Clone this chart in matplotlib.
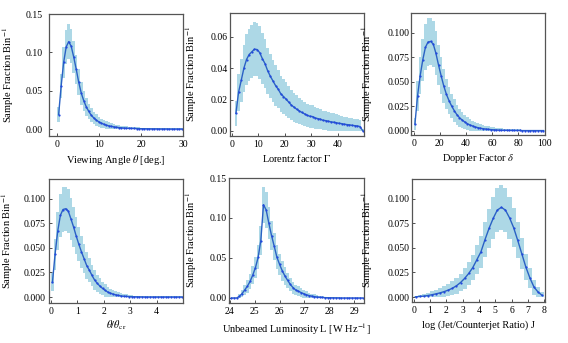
import numpy as np
import matplotlib
matplotlib.use("Agg")
import matplotlib.pyplot as plt

plt.rcParams['font.family'] = ['Liberation Serif', 'DejaVu Serif']
plt.rcParams['mathtext.fontset'] = 'stix'
plt.rcParams['font.size'] = 7

# --- data (fraction per bin and 1-sigma spread) ---
theta_edges = np.linspace(0, 30, 51)
theta_frac = [0.019, 0.056, 0.087, 0.107, 0.114, 0.108, 0.094, 0.078, 0.061, 0.047,
              0.037, 0.029, 0.023, 0.018, 0.0145, 0.0117, 0.0095, 0.0078, 0.0063, 0.0051,
              0.0042, 0.0035, 0.0029, 0.0024, 0.0020, 0.0017, 0.0014, 0.0012, 0.0010, 0.0009,
              0.0008, 0.0007, 0.0006, 0.0005, 0.0005, 0.0004, 0.0004, 0.0003, 0.0003, 0.0003,
              0.0002, 0.0002, 0.0002, 0.0002, 0.0001, 0.0001, 0.0001, 0.0001, 0.0001, 0.0001]
theta_err = [0.0094, 0.016, 0.020, 0.022, 0.023, 0.022, 0.021, 0.019, 0.017, 0.015,
             0.013, 0.0116, 0.0103, 0.0091, 0.0082, 0.0074, 0.0066, 0.0060, 0.0054, 0.0049,
             0.0044, 0.0040, 0.0037, 0.0033, 0.0030, 0.0028, 0.0025, 0.0024, 0.0021, 0.0020,
             0.0019, 0.0018, 0.0017, 0.0015, 0.0015, 0.0014, 0.0014, 0.0012, 0.0012, 0.0012,
             0.0010, 0.0010, 0.0010, 0.0010, 0.0007, 0.0007, 0.0007, 0.0007, 0.0007, 0.0007]

gamma_edges = np.linspace(1, 50, 50)
gamma_frac = [0.0113, 0.0248, 0.0323, 0.0400, 0.0456, 0.0488, 0.0505, 0.0522, 0.0520, 0.0500,
              0.0462, 0.0430, 0.0385, 0.0350, 0.0320, 0.0290, 0.0267, 0.0237, 0.0220, 0.0203,
              0.0184, 0.0165, 0.0152, 0.0139, 0.0128, 0.0118, 0.0109, 0.0100, 0.0094, 0.0092,
              0.0083, 0.0079, 0.0075, 0.0068, 0.0066, 0.0062, 0.0058, 0.0056, 0.0053, 0.0049,
              0.0047, 0.0043, 0.0041, 0.0039, 0.0036, 0.0034, 0.0032, 0.0028, 0.0002]
gamma_err = [0.0080, 0.0118, 0.0135, 0.0150, 0.0160, 0.0166, 0.0169, 0.0171, 0.0171, 0.0168,
             0.0161, 0.0156, 0.0147, 0.0140, 0.0134, 0.0128, 0.0123, 0.0115, 0.0111, 0.0107,
             0.0102, 0.0096, 0.0092, 0.0088, 0.0085, 0.0081, 0.0078, 0.0075, 0.0073, 0.0072,
             0.0068, 0.0067, 0.0065, 0.0062, 0.0061, 0.0059, 0.0057, 0.0056, 0.0055, 0.0053,
             0.0051, 0.0049, 0.0048, 0.0047, 0.0045, 0.0044, 0.0042, 0.0040, 0.0010]

delta_edges = np.linspace(0, 100, 51)
delta_frac = [0.0068, 0.0355, 0.0560, 0.0723, 0.0850, 0.0904, 0.0910, 0.0883, 0.0790, 0.0670,
              0.0560, 0.0457, 0.0372, 0.0307, 0.0252, 0.0205, 0.0164, 0.0133, 0.0109, 0.0089,
              0.0072, 0.0058, 0.0048, 0.0038, 0.0031, 0.0025, 0.0020, 0.0017, 0.0014, 0.0011,
              0.0009, 0.0008, 0.0006, 0.0005, 0.0004, 0.0004, 0.0003, 0.0003, 0.0002, 0.0002,
              0.0002, 0.0001, 0.0001, 0.0001, 0.0001, 0.0001, 0.0001, 0.0001, 0.0001, 0.0001]
delta_err = [0.0066, 0.0151, 0.0189, 0.0215, 0.0233, 0.0240, 0.0241, 0.0238, 0.0225, 0.0207,
             0.0189, 0.0171, 0.0154, 0.0140, 0.0127, 0.0115, 0.0102, 0.0092, 0.0084, 0.0075,
             0.0068, 0.0061, 0.0055, 0.0049, 0.0045, 0.0040, 0.0036, 0.0033, 0.0030, 0.0027,
             0.0024, 0.0023, 0.0020, 0.0018, 0.0016, 0.0016, 0.0014, 0.0014, 0.0011, 0.0011,
             0.0011, 0.0008, 0.0008, 0.0008, 0.0008, 0.0008, 0.0008, 0.0008, 0.0008, 0.0008]

ratio_edges = np.linspace(0, 5, 51)
ratio_frac = [0.0150, 0.0435, 0.0670, 0.0830, 0.0890, 0.0898, 0.0874, 0.0796, 0.0714, 0.0622,
              0.0537, 0.0460, 0.0390, 0.0320, 0.0274, 0.0220, 0.0173, 0.0139, 0.0112, 0.0088,
              0.0068, 0.0051, 0.0040, 0.0030, 0.0023, 0.0017, 0.0012, 0.0009, 0.0007, 0.0005,
              0.0004, 0.0003, 0.0003, 0.0002, 0.0002, 0.0001, 0.0001, 0.0001, 0.0001, 0.0001,
              0.0001, 0.0001, 0.0001, 0.0001, 0.0001, 0.0001, 0.0001, 0.0001, 0.0001, 0.0001]
ratio_err = [0.0092, 0.0156, 0.0194, 0.0216, 0.0224, 0.0225, 0.0222, 0.0212, 0.0200, 0.0187,
             0.0174, 0.0161, 0.0148, 0.0134, 0.0124, 0.0111, 0.0099, 0.0088, 0.0079, 0.0070,
             0.0062, 0.0054, 0.0047, 0.0041, 0.0036, 0.0031, 0.0026, 0.0023, 0.0020, 0.0017,
             0.0015, 0.0013, 0.0013, 0.0011, 0.0011, 0.0008, 0.0008, 0.0008, 0.0008, 0.0008,
             0.0008, 0.0008, 0.0008, 0.0008, 0.0008, 0.0008, 0.0008, 0.0008, 0.0008, 0.0008]

lum_edges = np.linspace(24, 29.4, 51)
lum_frac = [0.0, 0.0, 0.0, 0.0020, 0.0055, 0.0100, 0.0148, 0.0207, 0.0287, 0.0380,
            0.0507, 0.0718, 0.1166, 0.1100, 0.0934, 0.0780, 0.0647, 0.0510, 0.0420, 0.0340,
            0.0275, 0.0220, 0.0169, 0.0130, 0.0100, 0.0085, 0.0068, 0.0053, 0.0040, 0.0030,
            0.0023, 0.0017, 0.0012, 0.0009, 0.0006, 0.0004, 0.0003, 0.0002, 0.0002, 0.0001,
            0.0001, 0.0, 0.0, 0.0, 0.0, 0.0, 0.0, 0.0, 0.0, 0.0]
lum_err = [0.0003, 0.0003, 0.0003, 0.0030, 0.0049, 0.0066, 0.0080, 0.0095, 0.0112, 0.0129,
           0.0149, 0.0177, 0.0225, 0.0219, 0.0202, 0.0184, 0.0168, 0.0149, 0.0135, 0.0122,
           0.0109, 0.0098, 0.0086, 0.0075, 0.0066, 0.0061, 0.0054, 0.0048, 0.0042, 0.0036,
           0.0032, 0.0027, 0.0023, 0.0020, 0.0016, 0.0013, 0.0011, 0.0009, 0.0009, 0.0007,
           0.0007, 0.0003, 0.0003, 0.0003, 0.0003, 0.0003, 0.0003, 0.0003, 0.0003, 0.0003]

jet_edges = np.linspace(0, 8, 33)
jet_frac = [0.0003, 0.0006, 0.0010, 0.0016, 0.0024, 0.0033, 0.0043, 0.0056, 0.0071, 0.0090,
            0.0115, 0.0148, 0.0190, 0.0240, 0.0300, 0.0380, 0.0460, 0.0585, 0.0700, 0.0800,
            0.0884, 0.0912, 0.0884, 0.0806, 0.0707, 0.0578, 0.0442, 0.0306, 0.0194, 0.0102,
            0.0051, 0.0017]
jet_err = [0.0013, 0.0018, 0.0024, 0.0030, 0.0037, 0.0043, 0.0049, 0.0056, 0.0063, 0.0071,
           0.0080, 0.0091, 0.0103, 0.0116, 0.0130, 0.0146, 0.0161, 0.0181, 0.0198, 0.0212,
           0.0223, 0.0226, 0.0223, 0.0213, 0.0199, 0.0180, 0.0158, 0.0131, 0.0104, 0.0076,
           0.0054, 0.0031]

ylab = r'Sample Fraction Bin$^{-1}$'
panels = [
    (theta_edges, theta_frac, theta_err, r'Viewing Angle $\theta$ [deg.]',
     (-2, 30), (-0.009, 0.15), [0, 10, 20, 30], [0, 0.05, 0.10, 0.15], '%.2f'),
    (gamma_edges, gamma_frac, gamma_err, r'Lorentz factor $\Gamma$',
     (-0.75, 50), (-0.0032, 0.0753), [0, 10, 20, 30, 40], [0, 0.02, 0.04, 0.06], '%.2f'),
    (delta_edges, delta_frac, delta_err, r'Doppler Factor $\delta$',
     (-2, 100.3), (-0.0044, 0.12), [0, 20, 40, 60, 80, 100], [0, 0.025, 0.05, 0.075, 0.1], '%.3f'),
    (ratio_edges, ratio_frac, ratio_err, r'$\theta/\theta_{\rm cr}$',
     (-0.08, 5.0), (-0.006, 0.12), [0, 1, 2, 3, 4], [0, 0.025, 0.05, 0.075, 0.1], '%.3f'),
    (lum_edges, lum_frac, lum_err, r'Unbeamed Luminosity L [W Hz$^{-1}$]',
     (23.96, 29.4), (-0.0063, 0.15), [24, 25, 26, 27, 28, 29], [0, 0.05, 0.10, 0.15], '%.2f'),
    (jet_edges, jet_frac, jet_err, r'log (Jet/Counterjet Ratio) J',
     (-0.1, 8.05), (-0.005, 0.12), list(range(9)), [0, 0.025, 0.05, 0.075, 0.1], '%.3f'),
]

# axes boxes in pixels: x0, x1, ytop, ybottom
boxes = [(49, 183, 14, 136), (230, 364, 13, 136), (411, 545, 13, 135),
         (49, 183, 179, 303), (229, 364, 178, 303), (412, 545, 179, 302)]
# y tick label gap, y-label offset, x-label offset (pixels from the spines)
ypads = [6.5, 2.3, 1.5, 3.0, 2.7, 2.4]
ylab_off = [33, 31, 36, 34, 30, 37]
xlab_off = [17, 16, 17, 16, 18, 18]

W, H = 568, 343
fig = plt.figure(figsize=(W / 100, H / 100), dpi=100)

for i, (edges, frac, err, xlab, xl, yl, xt, yt, fmt) in enumerate(panels):
    x0, x1, yt0, yb = boxes[i]
    aw, ah = x1 - x0, yb - yt0
    ax = fig.add_axes([x0 / W, 1 - yb / H, aw / W, ah / H])
    frac = np.array(frac)
    err = np.array(err)
    centers = 0.5 * (edges[1:] + edges[:-1])
    lo = np.clip(frac - err, 0, None)
    hi = frac + err
    ax.stairs(hi, edges, baseline=lo, fill=True, color='lightblue', lw=0)
    ax.plot(centers, frac, '-', color='#2a62c4', lw=1.0)
    ax.plot(centers, frac, 'o', color='#2348de', ms=1.6, mew=0)
    ax.set_xlim(*xl)
    ax.set_ylim(*yl)
    ax.set_xticks(xt)
    ax.set_yticks(yt)
    ax.yaxis.set_major_formatter(matplotlib.ticker.FormatStrFormatter(fmt))
    ax.tick_params(direction='in', length=2.5, width=0.6, colors='#333333',
                   labelcolor='black', labelsize=7)
    ax.tick_params(axis='x', pad=3)
    ax.tick_params(axis='y', pad=ypads[i] * 0.72)
    for s in ax.spines.values():
        s.set_color('#555555')
        s.set_linewidth(0.9)
    ax.set_xlabel(xlab, fontsize=7.5)
    ax.set_ylabel(ylab, fontsize=7.5)
    ax.yaxis.set_label_coords(-ylab_off[i] / aw, 0.5)
    ax.xaxis.set_label_coords(0.5, -xlab_off[i] / ah)

fig.savefig('out.png', dpi=100)
